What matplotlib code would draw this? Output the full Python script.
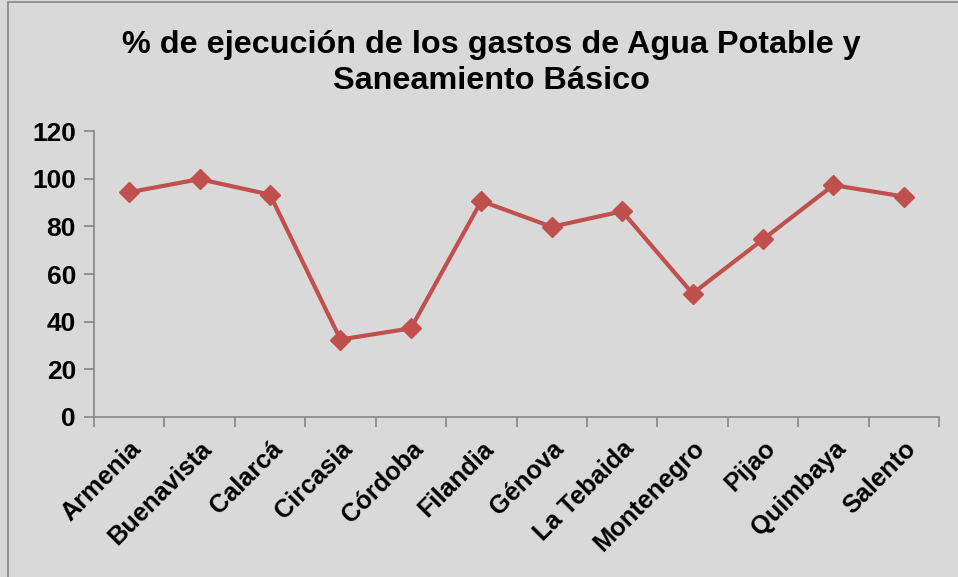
import matplotlib
matplotlib.use("Agg")
import matplotlib.pyplot as plt
from matplotlib.patches import Rectangle

plt.rcParams['font.family'] = ['Liberation Sans', 'DejaVu Sans']

municipios = ["Armenia", "Buenavista", "Calarcá", "Circasia", "Córdoba", "Filandia",
              "Génova", "La Tebaida", "Montenegro", "Pijao", "Quimbaya", "Salento"]
ejecucion = [94.3, 99.8, 93.3, 32.5, 37.2, 90.6, 79.8, 86.3, 51.8, 74.5, 97.3, 92.5]
y_ticks = [0, 20, 40, 60, 80, 100, 120]

bg = "#d9d9d9"
axis_col = "#868686"

fig = plt.figure(figsize=(9.58, 5.77), dpi=100, facecolor=bg)
# chart frame
fig.patches.append(Rectangle((8 / 958, -0.01), 1.0, 1 - 2 / 577 + 0.01,
                             transform=fig.transFigure, fill=False,
                             edgecolor=axis_col, linewidth=1.2))

ax = fig.add_axes([94 / 958, 1 - 417 / 577, (939 - 94) / 958, (417 - 131) / 577])
ax.set_facecolor(bg)

x = list(range(len(municipios)))
ax.plot(x, ejecucion, color="#c0504d", linewidth=3.0, marker="D", markersize=10.5,
        markeredgecolor="#c0504d", markerfacecolor="#c0504d", clip_on=False)

ax.set_xlim(-0.5, len(municipios) - 0.5)
ax.set_ylim(0, 120)
ax.set_yticks(y_ticks)
ax.set_yticklabels([str(v) for v in y_ticks], fontsize=19, fontweight="bold")

ax.set_xticks(x)
ax.set_xticklabels(municipios, rotation=45, ha="right", rotation_mode="anchor",
                   fontsize=18.3, fontweight="bold")
ax.tick_params(axis="x", length=0, pad=14)
ax.set_xticks([i - 0.5 for i in range(len(municipios) + 1)], minor=True)
ax.tick_params(axis="x", which="minor", length=7, color=axis_col, width=1.2)
ax.tick_params(axis="y", length=7, color=axis_col, width=1.2, pad=6)

for s in ["top", "right"]:
    ax.spines[s].set_visible(False)
for s in ["left", "bottom"]:
    ax.spines[s].set_color(axis_col)
    ax.spines[s].set_linewidth(1.2)

fig.text(491 / 958, 1 - 63 / 577,
         "% de ejecución de los gastos de Agua Potable y\nSaneamiento Básico",
         ha="center", va="center", fontsize=23.3, fontweight="bold", linespacing=1.22)

fig.savefig("out.png", dpi=100, facecolor=bg)
